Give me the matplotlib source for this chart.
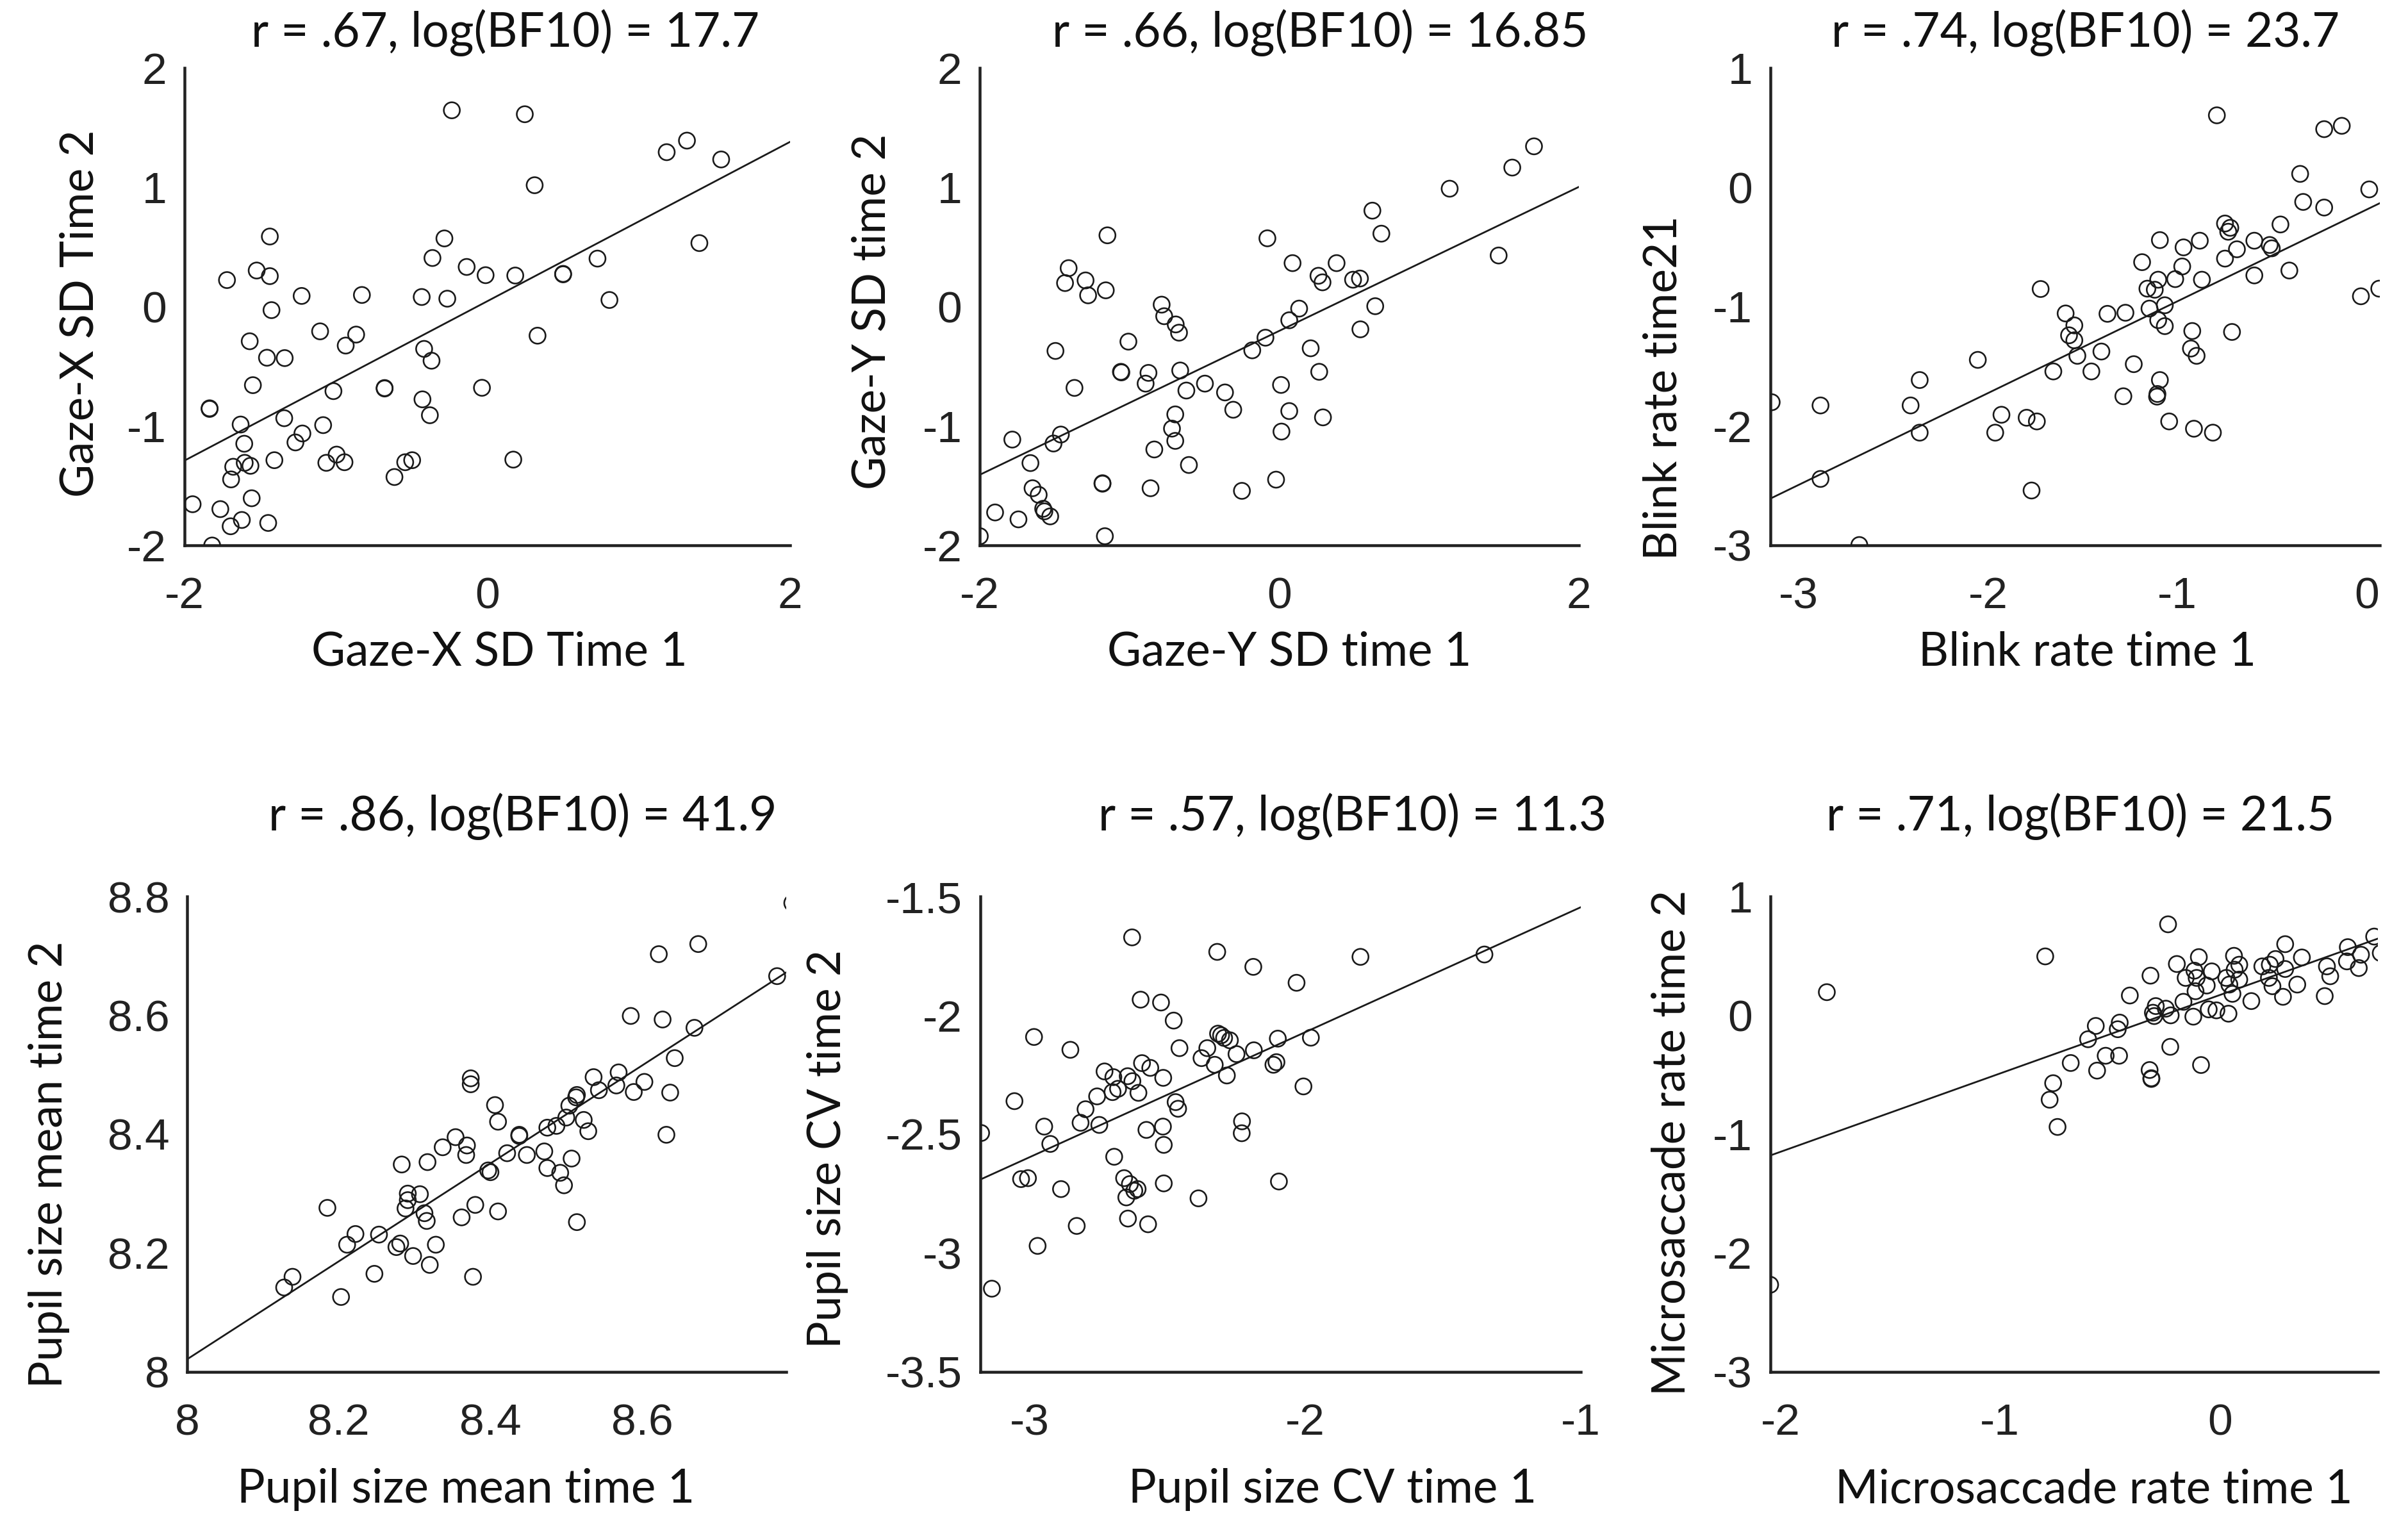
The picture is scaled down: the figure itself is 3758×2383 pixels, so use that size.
import numpy as np
import matplotlib
matplotlib.use("Agg")
import matplotlib.pyplot as plt

# ---------------- data ----------------
gazex_t1 = [-0.234, 0.248, 1.319, 1.185, 1.545, 0.313, -1.436, -0.283, 1.401, -0.362,
            0.728, -1.523, -0.136, -1.719, -1.436, -0.011, 0.185, 0.501, 0.501, -1.226,
            -0.828, -0.433, -0.264, 0.807, -1.425, -1.104, -0.866, -0.935, -1.569, 0.332,
            -1.455, -1.338, -0.417, -0.368, -1.548, -1.016, -0.678, -0.678, -0.035, -1.834,
            -1.834, -0.428, -0.379, -1.629, -1.341, -1.084, -1.221, -1.267, -1.605, -1.406,
            -1.063, -0.995, -0.943, -0.542, -0.496, 0.172, -0.613, -1.678, -1.564, -1.692,
            -1.602, -1.556, -1.946, -1.763, -1.621, -1.695, -1.447, -1.817]
gazex_t2 = [1.645, 1.612, 1.391, 1.294, 1.233, 1.017, 0.587, 0.571, 0.532, 0.407,
            0.402, 0.302, 0.332, 0.222, 0.255, 0.263, 0.260, 0.274, 0.270, 0.089,
            0.097, 0.080, 0.066, 0.055, -0.030, -0.208, -0.235, -0.327, -0.291, -0.244,
            -0.429, -0.432, -0.355, -0.454, -0.659, -0.709, -0.687, -0.683, -0.681, -0.853,
            -0.858, -0.778, -0.911, -0.989, -0.936, -0.994, -1.064, -1.139, -1.150, -1.288,
            -1.310, -1.241, -1.305, -1.305, -1.288, -1.283, -1.429, -1.343, -1.335, -1.449,
            -1.310, -1.607, -1.657, -1.698, -1.789, -1.842, -1.814, -2.003]

gazey_t1 = [1.700, 1.555, 1.137, 0.621, 0.681, -0.080, -1.148, 1.464, 0.088, 0.382,
            -1.407, -1.431, -1.294, 0.261, 0.288, 0.492, 0.538, -1.277, -1.159, -0.786,
            -0.769, -0.692, -0.670, 0.132, 0.066, 0.640, 0.541, -1.008, -1.495, -0.093,
            -0.181, 0.209, -1.058, -1.055, -0.874, -0.893, -0.662, 0.266, -1.368, -0.621,
            -0.497, -0.363, 0.011, -0.308, 0.066, 0.291, -0.695, -0.717, -0.695, 0.014,
            -1.783, -1.508, -1.459, -0.835, -0.604, -1.662, -1.181, -1.181, -0.860, -0.250,
            -0.022, -1.648, -1.607, -1.577, -1.530, -1.569, -1.898, -1.742, -2.0, -1.165]
gazey_t2 = [1.343, 1.165, 0.988, 0.804, 0.611, 0.572, 0.597, 0.428, 0.364, 0.364,
            0.322, 0.197, 0.219, 0.258, 0.203, 0.225, 0.235, 0.094, 0.136, 0.016,
            -0.081, -0.150, -0.219, -0.017, -0.115, 0.003, -0.191, -0.294, -0.372, -0.261,
            -0.367, -0.350, -0.547, -0.552, -0.556, -0.646, -0.536, -0.547, -0.682, -0.704,
            -0.646, -0.720, -0.657, -0.865, -0.876, -0.929, -0.904, -1.023, -1.126, -1.048,
            -1.115, -1.148, -1.073, -1.198, -1.328, -1.312, -1.481, -1.485, -1.523, -1.545,
            -1.451, -1.523, -1.578, -1.695, -1.759, -1.717, -1.726, -1.784, -1.925, -1.925]

blink_t1 = [-0.791, -0.224, -0.131, -0.351, 0.014, -0.335, -0.224, -0.748, -0.720, -0.731,
            -0.455, -1.092, -0.881, -0.967, -0.593, -0.685, -0.512, -0.501, -0.748, -1.186,
            -0.974, -1.011, -0.870, -0.593, -0.408, -1.101, -1.158, -1.119, -1.722, -0.030,
            0.067, -1.066, -1.147, -1.590, -1.369, -1.274, -1.101, -1.066, -1.544, -1.572,
            -1.544, -0.921, -0.711, -0.928, -0.898, -1.528, -1.401, -2.054, -1.230, -1.655,
            -1.454, -2.361, -1.092, -1.105, -1.107, -1.285, -3.143, -2.885, -2.409, -1.929,
            -1.796, -1.742, -1.043, -1.962, -2.361, -0.912, -0.812, -2.885, -1.770, -2.680]
blink_t2 = [0.603, 0.487, 0.515, 0.112, -0.018, -0.123, -0.170, -0.304, -0.340, -0.373,
            -0.312, -0.443, -0.448, -0.504, -0.448, -0.520, -0.484, -0.512, -0.598, -0.628,
            -0.664, -0.770, -0.775, -0.739, -0.698, -0.775, -0.850, -0.859, -0.853, -0.914,
            -0.850, -0.989, -1.017, -1.058, -1.061, -1.052, -1.114, -1.164, -1.158, -1.241,
            -1.283, -1.205, -1.213, -1.352, -1.413, -1.413, -1.377, -1.447, -1.483, -1.544,
            -1.544, -1.616, -1.616, -1.733, -1.755, -1.752, -1.802, -1.829, -1.829, -1.907,
            -1.932, -1.963, -1.963, -2.057, -2.057, -2.024, -2.057, -2.445, -2.542, -2.999]

pupil_t1 = [8.798, 8.674, 8.622, 8.778, 8.585, 8.627, 8.669, 8.643, 8.536, 8.569,
            8.603, 8.566, 8.543, 8.589, 8.637, 8.374, 8.374, 8.514, 8.513, 8.504,
            8.406, 8.500, 8.410, 8.487, 8.475, 8.523, 8.529, 8.632, 8.438, 8.438,
            8.354, 8.337, 8.369, 8.368, 8.422, 8.448, 8.471, 8.507, 8.475, 8.492,
            8.497, 8.283, 8.317, 8.397, 8.400, 8.291, 8.307, 8.291, 8.288, 8.313,
            8.316, 8.185, 8.380, 8.410, 8.362, 8.514, 8.222, 8.253, 8.211, 8.281,
            8.276, 8.328, 8.298, 8.320, 8.247, 8.377, 8.139, 8.128, 8.203]
pupil_t2 = [8.789, 8.720, 8.703, 8.666, 8.599, 8.593, 8.579, 8.528, 8.496, 8.504,
            8.488, 8.482, 8.474, 8.471, 8.470, 8.494, 8.484, 8.466, 8.462, 8.448,
            8.449, 8.428, 8.421, 8.414, 8.411, 8.424, 8.405, 8.399, 8.399, 8.397,
            8.395, 8.378, 8.381, 8.365, 8.368, 8.365, 8.371, 8.359, 8.343, 8.335,
            8.314, 8.349, 8.353, 8.339, 8.336, 8.300, 8.299, 8.289, 8.275, 8.267,
            8.254, 8.276, 8.281, 8.270, 8.260, 8.252, 8.232, 8.231, 8.214, 8.216,
            8.210, 8.214, 8.195, 8.180, 8.165, 8.160, 8.160, 8.142, 8.126]

pcv_t1 = [-2.629, -2.320, -1.800, -1.350, -2.189, -2.032, -2.598, -2.524, -2.478, -2.985,
          -2.853, -2.457, -2.317, -2.295, -2.274, -2.306, -2.100, -1.980, -2.356, -2.187,
          -2.250, -2.377, -2.329, -2.116, -2.105, -2.285, -2.593, -2.563, -2.516, -2.729,
          -2.697, -2.645, -2.628, -2.606, -2.680, -2.700, -2.756, -3.056, -2.007, -2.471,
          -2.462, -2.798, -2.816, -2.748, -2.948, -2.577, -2.517, -2.230, -2.231, -3.177,
          -2.926, -2.514, -2.694, -3.032, -3.007, -2.887, -2.658, -2.637, -2.621, -2.609,
          -2.650, -2.514, -2.096, -2.388, -2.830, -2.644, -2.571, -2.972, -3.138]
pcv_t2 = [-1.672, -1.733, -1.754, -1.744, -1.796, -1.863, -1.934, -1.946, -2.022, -2.091,
          -2.145, -2.138, -2.077, -2.095, -2.105, -2.084, -2.098, -2.094, -2.138, -2.147,
          -2.163, -2.180, -2.208, -2.208, -2.197, -2.253, -2.201, -2.221, -2.263, -2.236,
          -2.260, -2.256, -2.277, -2.326, -2.309, -2.323, -2.341, -2.361, -2.299, -2.365,
          -2.393, -2.395, -2.452, -2.461, -2.468, -2.482, -2.468, -2.446, -2.496, -2.495,
          -2.541, -2.545, -2.595, -2.689, -2.685, -2.731, -2.685, -2.710, -2.738, -2.731,
          -2.766, -2.707, -2.699, -2.770, -2.886, -2.855, -2.879, -2.970, -3.150]

msac_t1 = [-0.235, -0.794, -1.788, 0.703, 0.298, 0.583, 0.733, 0.643, 0.374, -0.095,
           0.065, 0.254, -0.195, 0.089, 0.194, 0.228, 0.579, -0.036, -0.115, 0.068,
           0.488, 0.633, 0.298, -0.315, -0.155, -0.105, 0.030, 0.089, 0.224, 0.503,
           -0.059, 0.044, 0.240, 0.353, -0.110, 0.058, -0.409, 0.288, 0.478, 0.144,
           -0.165, -0.291, -0.245, -0.050, -0.015, -0.304, -0.223, -0.120, 0.040, -0.298,
           -0.564, -0.455, -0.464, -0.599, -0.225, -0.519, -0.458, -0.678, -0.085, -0.558,
           -0.319, -0.311, -0.311, -0.758, -0.774, -0.738, -2.046]
msac_t2 = [0.766, 0.496, 0.195, 0.663, 0.599, 0.574, 0.524, 0.510, 0.487, 0.490,
           0.501, 0.474, 0.432, 0.426, 0.412, 0.426, 0.454, 0.370, 0.376, 0.384,
           0.412, 0.398, 0.390, 0.334, 0.315, 0.315, 0.315, 0.301, 0.315, 0.329,
           0.251, 0.259, 0.245, 0.259, 0.203, 0.181, 0.167, 0.156, 0.162, 0.120,
           0.114, 0.078, 0.056, 0.050, 0.042, 0.022, 0.000, -0.011, 0.014, -0.006,
           -0.089, -0.061, -0.117, -0.201, -0.265, -0.340, -0.340, -0.401, -0.418, -0.465,
           -0.460, -0.529, -0.535, -0.571, -0.710, -0.939, -2.267]

titles = ["r = .67, log(BF10) = 17.7", "r = .66, log(BF10) = 16.85", "r = .74, log(BF10) = 23.7",
          "r = .86, log(BF10) = 41.9", "r = .57, log(BF10) = 11.3", "r = .71, log(BF10) = 21.5"]
xlabels = ["Gaze-X SD Time 1", "Gaze-Y SD time 1", "Blink rate time 1",
           "Pupil size mean time 1", "Pupil size CV time 1", "Microsaccade rate time 1"]
ylabels = ["Gaze-X SD Time 2", "Gaze-Y SD time 2", "Blink rate time21",
           "Pupil size mean time 2", "Pupil size CV time 2", "Microsaccade rate time 2"]
xticks = [[-2, 0, 2], [-2, 0, 2], [-3, -2, -1, 0], [8, 8.2, 8.4, 8.6], [-3, -2, -1], [-2, -1, 0]]
xticklabels = [["-2", "0", "2"], ["-2", "0", "2"], ["-3", "-2", "-1", "0"],
               ["8", "8.2", "8.4", "8.6"], ["-3", "-2", "-1"], ["-2", "-1", "0"]]
yticks = [[-2, -1, 0, 1, 2], [-2, -1, 0, 1, 2], [-3, -2, -1, 0, 1],
          [8, 8.2, 8.4, 8.6, 8.8], [-3.5, -3, -2.5, -2, -1.5], [-3, -2, -1, 0, 1]]
yticklabels = [["-2", "-1", "0", "1", "2"], ["-2", "-1", "0", "1", "2"], ["-3", "-2", "-1", "0", "1"],
               ["8", "8.2", "8.4", "8.6", "8.8"], ["-3.5", "-3", "-2.5", "-2", "-1.5"],
               ["-3", "-2", "-1", "0", "1"]]
xlims = [(-2, 2), (-2, 2), (-3.15, 0.07), (8, 8.79), (-3.18, -1.0), (-2.045, 0.72)]
ylims = [(-2, 2), (-2, 2), (-3, 1), (8, 8.8), (-3.5, -1.5), (-3, 1)]

series = [(gazex_t1, gazex_t2), (gazey_t1, gazey_t2), (blink_t1, blink_t2),
          (pupil_t1, pupil_t2), (pcv_t1, pcv_t2), (msac_t1, msac_t2)]

# ---------------- layout ----------------
positions = [
    (0.0766, 0.643, 0.2515, 0.3125),
    (0.4069, 0.643, 0.2488, 0.3125),
    (0.7352, 0.643, 0.2531, 0.3125),
    (0.0777, 0.1016, 0.2488, 0.3113),
    (0.4071, 0.1016, 0.2494, 0.3113),
    (0.7352, 0.1016, 0.2523, 0.3113),
]
title_xy = [(0.53, 1.074), (0.568, 1.074), (0.517, 1.074), (0.56, 1.168), (0.62, 1.168), (0.51, 1.168)]
xlabel_xy = [(0.52, -0.224), (0.517, -0.224), (0.52, -0.224), (0.465, -0.248), (0.587, -0.248), (0.533, -0.248)]
ylabel_xy = [(-0.172, 0.485), (-0.18, 0.49), (-0.175, 0.33), (-0.231, 0.436), (-0.254, 0.469), (-0.162, 0.482)]

text_font = ["Lato", "DejaVu Sans"]
tick_font = ["Liberation Sans", "DejaVu Sans"]
ink = "#1a1a1a"

fig = plt.figure(figsize=(3758 / 250, 2383 / 250), dpi=250)
fig.patch.set_facecolor("white")

for i in range(6):
    ax = fig.add_axes(positions[i])
    x = np.asarray(series[i][0], dtype=float)
    y = np.asarray(series[i][1], dtype=float)
    ax.scatter(x, y, s=52, facecolors="none", edgecolors=ink, linewidths=0.75, zorder=3)
    slope, intercept = np.polyfit(x, y, 1)
    xl = np.array(xlims[i])
    ax.plot(xl, intercept + slope * xl, color=ink, lw=0.8, zorder=2)
    ax.set_xlim(*xlims[i])
    ax.set_ylim(*ylims[i])
    ax.set_xticks(xticks[i])
    ax.set_xticklabels(xticklabels[i], family=tick_font, fontsize=20, color="#222222")
    ax.set_yticks(yticks[i])
    ax.set_yticklabels(yticklabels[i], family=tick_font, fontsize=20, color="#222222")
    ax.tick_params(axis="both", length=0)
    ax.tick_params(axis="x", pad=14)
    ax.tick_params(axis="y", pad=8)
    for side in ("top", "right"):
        ax.spines[side].set_visible(False)
    for side in ("left", "bottom"):
        ax.spines[side].set_linewidth(1.3)
        ax.spines[side].set_color("#222222")
    ax.text(title_xy[i][0], title_xy[i][1], titles[i], transform=ax.transAxes,
            ha="center", va="center", fontsize=21.5, family=text_font, color="#111111")
    ax.text(xlabel_xy[i][0], xlabel_xy[i][1], xlabels[i], transform=ax.transAxes,
            ha="center", va="center", fontsize=21, family=text_font, color="#111111")
    ax.text(ylabel_xy[i][0], ylabel_xy[i][1], ylabels[i], transform=ax.transAxes,
            ha="center", va="center", rotation=90, fontsize=20.5, family=text_font, color="#111111")

fig.savefig("out.png", dpi=250, facecolor="white")
